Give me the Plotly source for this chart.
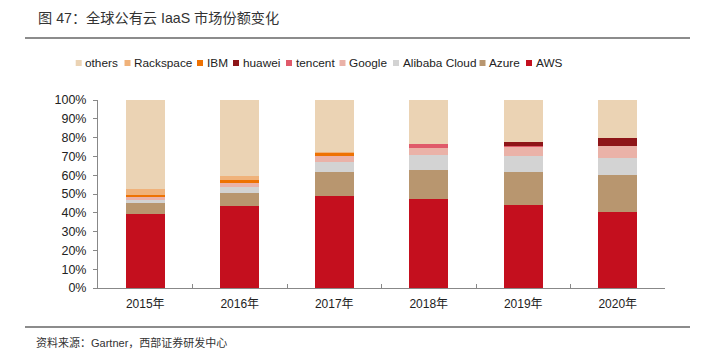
import plotly.graph_objects as go

years = ["2015年", "2016年", "2017年", "2018年", "2019年", "2020年"]
aws = [39.4, 43.7, 48.9, 47.4, 44.2, 40.3]
azure = [5.6, 7.1, 12.7, 15.5, 17.4, 19.6]
alibaba = [1.7, 2.8, 5.4, 7.8, 8.7, 9.4]
google = [1.5, 2.3, 3.2, 3.9, 5.2, 6.2]
tencent = [0.0, 0.0, 0.0, 2.0, 0.3, 0.0]
huawei = [0.0, 0.0, 0.0, 0.0, 1.7, 4.3]
ibm = [1.4, 1.8, 2.1, 0.0, 0.0, 0.0]
rackspace = [2.8, 2.0, 0.3, 0.0, 0.0, 0.0]
others = [47.6, 40.3, 27.4, 23.4, 22.5, 20.2]

series_names = ["AWS", "Azure", "Alibaba Cloud", "Google", "tencent", "huawei", "IBM", "Rackspace", "others"]
series_values = [aws, azure, alibaba, google, tencent, huawei, ibm, rackspace, others]
series_colors = ["#C40F1E", "#B8966F", "#D3D3D3", "#EAB2A8", "#E05A6A", "#8E1518", "#EE7203", "#F0B27A", "#EBD3B4"]

# legend layout (left edge of swatch, px) in display order (reversed)
legend_x = [75.7, 124.5, 197, 233, 286, 339.5, 393, 479.5, 526]

W, H = 709, 353
ML, MR, MT, MB = 98, 44, 100, 65
plot_w = W - ML - MR
plot_h = H - MT - MB

def px_x(px):
    return (px - ML) / plot_w

def px_y(py):
    return (H - MB - py) / plot_h

fig = go.Figure()
for name, vals, color in zip(series_names, series_values, series_colors):
    fig.add_trace(go.Bar(
        x=years, y=vals, name=name,
        marker=dict(color=color, line=dict(width=0)),
        width=0.41, showlegend=False,
    ))

latin = "Liberation Sans, Arial, sans-serif"
cjk = "Liberation Sans, Noto Sans CJK SC, sans-serif"

annotations = [
    dict(text="图 47：全球公有云 IaaS 市场份额变化", xref="paper", yref="paper",
         x=px_x(36), y=px_y(18), xanchor="left", yanchor="middle",
         showarrow=False, font=dict(size=14.2, color="#333333", family=cjk)),
    dict(text="资料来源：Gartner，西部证券研发中心", xref="paper", yref="paper",
         x=px_x(34), y=px_y(342), xanchor="left", yanchor="middle",
         showarrow=False, font=dict(size=11, color="#333333", family=cjk)),
]
shapes = [
    dict(type="line", xref="paper", yref="paper", x0=px_x(25), x1=px_x(690),
         y0=px_y(38), y1=px_y(38), line=dict(color="#666666", width=1.5)),
    dict(type="line", xref="paper", yref="paper", x0=px_x(25), x1=px_x(690),
         y0=px_y(327), y1=px_y(327), line=dict(color="#666666", width=1.5)),
]

# manual legend to match the compact swatch style
legend_y = 63
for lx, name, color in zip(legend_x, series_names[::-1], series_colors[::-1]):
    shapes.append(dict(type="rect", xref="paper", yref="paper",
                       x0=px_x(lx), x1=px_x(lx + 6), y0=px_y(legend_y + 3), y1=px_y(legend_y - 3),
                       fillcolor=color, line=dict(width=0)))
    annotations.append(dict(text=name, xref="paper", yref="paper",
                            x=px_x(lx + 7.5), y=px_y(legend_y), xanchor="left", yanchor="middle",
                            showarrow=False, font=dict(size=11.8, color="#222222", family=latin)))

fig.update_layout(
    barmode="stack",
    width=W, height=H,
    margin=dict(l=ML, r=MR, t=MT, b=MB),
    paper_bgcolor="white", plot_bgcolor="white",
    font=dict(family=latin, size=12, color="#222222"),
    showlegend=False,
    xaxis=dict(
        showline=True, linecolor="#888888", linewidth=1,
        ticks="inside", ticklen=4, tickcolor="#888888",
        tickson="boundaries",
        tickfont=dict(size=12, family=cjk, color="#222222"),
        ticklabelstandoff=5,
        showgrid=False,
    ),
    yaxis=dict(
        range=[0, 100], dtick=10, ticksuffix="%",
        showline=True, linecolor="#888888", linewidth=1,
        ticks="outside", ticklen=4, tickcolor="#888888",
        showgrid=False, zeroline=False,
        ticklabelstandoff=4,
        tickfont=dict(size=12.5, family=latin, color="#222222"),
    ),
    annotations=annotations,
    shapes=shapes,
)

fig.write_html("out.html")
